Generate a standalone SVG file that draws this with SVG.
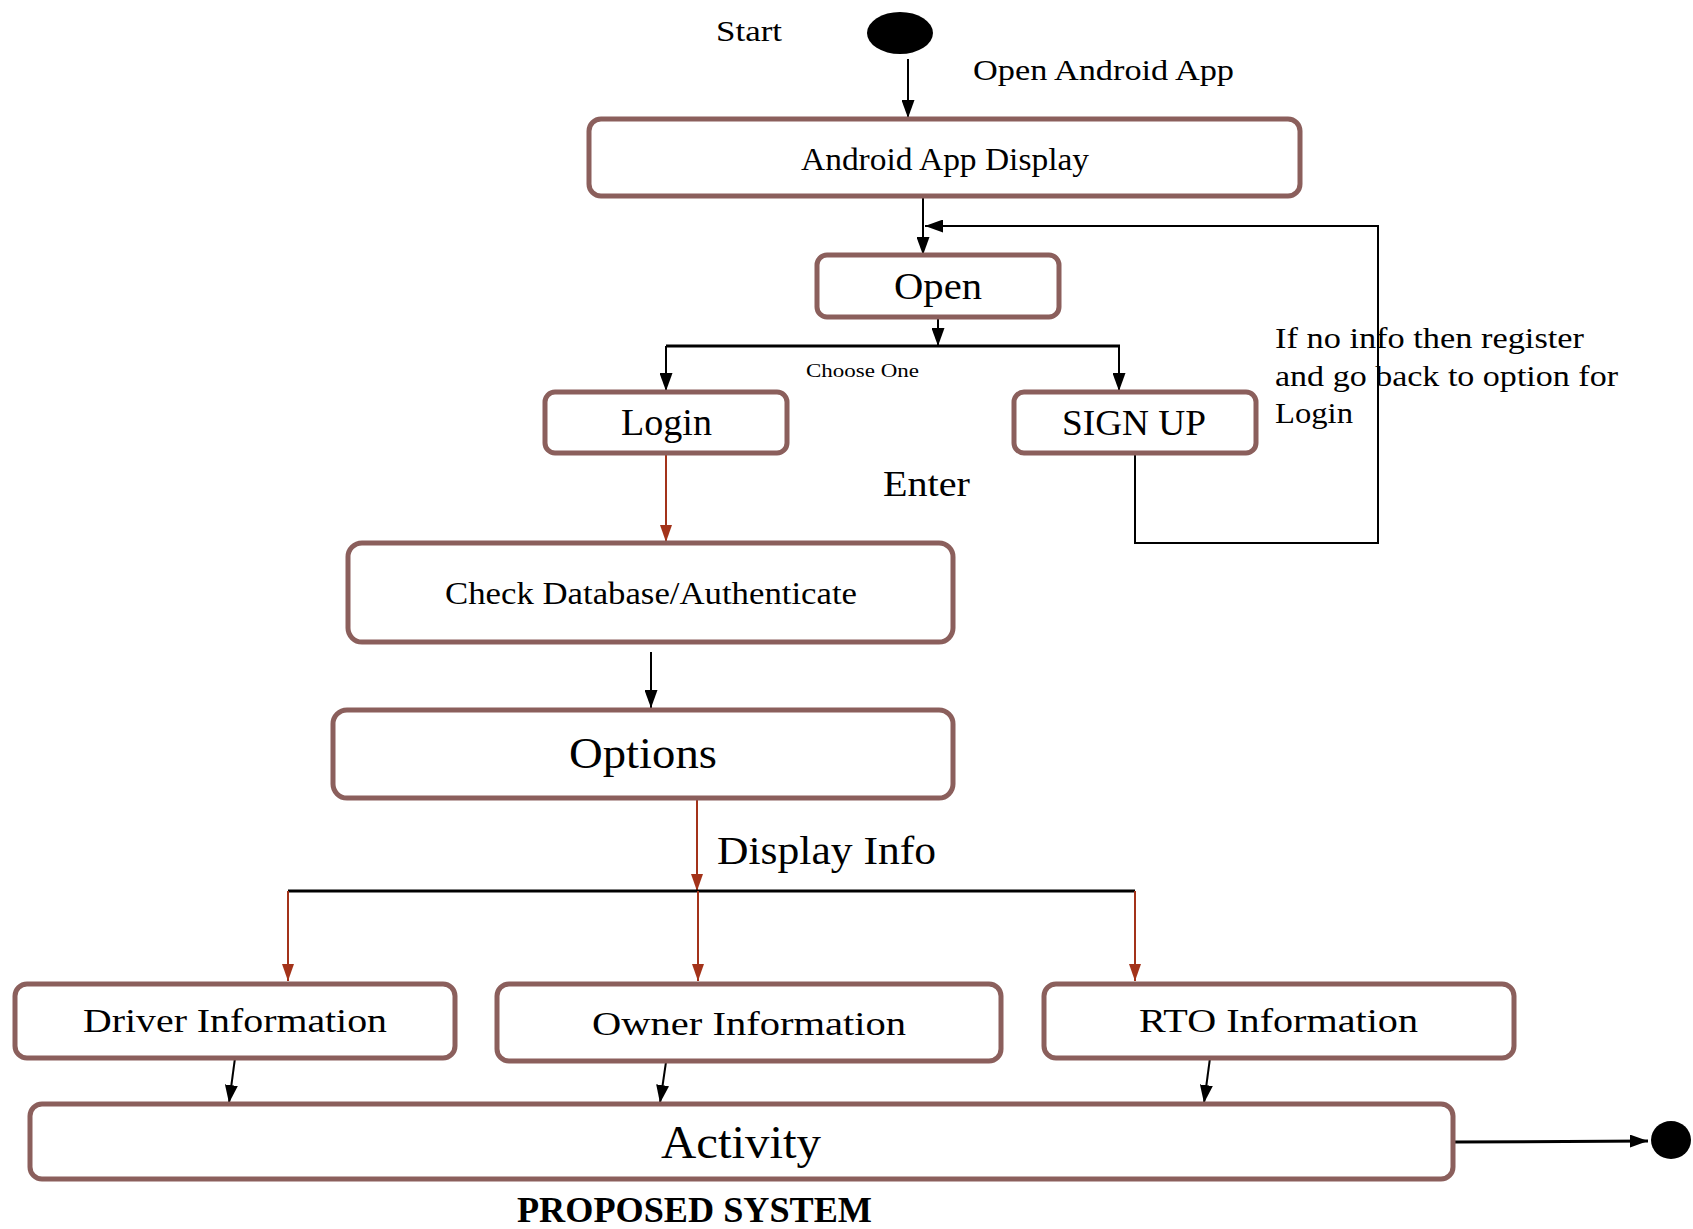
<svg xmlns="http://www.w3.org/2000/svg" width="1693" height="1229" viewBox="0 0 1693 1229">
<defs>
<style>
.box{fill:#fff;stroke:#8B5F5C;stroke-width:5}
.t{font-family:"Liberation Serif","Times New Roman",serif;fill:#000}
.ln{fill:none;stroke:#000;stroke-width:2}
.thick{fill:none;stroke:#000;stroke-width:3}
.red{fill:none;stroke:#A3331A;stroke-width:2}
</style>
<marker id="ab" markerUnits="userSpaceOnUse" viewBox="0 0 18 13" refX="18" refY="6.5" markerWidth="18" markerHeight="13" orient="auto"><path d="M0,0 L18,6.5 L0,13 z" fill="#000"/></marker>
<marker id="ar" markerUnits="userSpaceOnUse" viewBox="0 0 17 12" refX="17" refY="6" markerWidth="17" markerHeight="12" orient="auto"><path d="M0,0 L17,6 L0,12 z" fill="#A3331A"/></marker>
</defs>
<rect width="1693" height="1229" fill="#fff"/>

<g id="connectors">
<line class="ln" x1="908" y1="59" x2="908" y2="118" marker-end="url(#ab)"/>
<line class="ln" x1="923" y1="196" x2="923" y2="255" marker-end="url(#ab)"/>
<polyline class="ln" points="1135,453 1135,543 1378,543 1378,226 925,226" marker-end="url(#ab)"/>
<line class="ln" x1="938" y1="317" x2="938" y2="346" marker-end="url(#ab)"/>
<line class="thick" x1="666" y1="346" x2="1120" y2="346"/>
<line class="ln" x1="666" y1="346" x2="666" y2="391" marker-end="url(#ab)"/>
<line class="ln" x1="1119" y1="346" x2="1119" y2="391" marker-end="url(#ab)"/>
<line class="red" x1="666" y1="453" x2="666" y2="542" marker-end="url(#ar)"/>
<line class="ln" x1="651" y1="652" x2="651" y2="708" marker-end="url(#ab)"/>
<line class="red" x1="697" y1="799" x2="697" y2="891" marker-end="url(#ar)"/>
<line class="thick" x1="288" y1="891" x2="1135" y2="891"/>
<line class="red" x1="288" y1="891" x2="288" y2="981" marker-end="url(#ar)"/>
<line class="red" x1="698" y1="891" x2="698" y2="981" marker-end="url(#ar)"/>
<line class="red" x1="1135" y1="891" x2="1135" y2="981" marker-end="url(#ar)"/>
<line class="ln" x1="235" y1="1058" x2="229" y2="1103" marker-end="url(#ab)"/>
<line class="ln" x1="666" y1="1062" x2="660" y2="1103" marker-end="url(#ab)"/>
<line class="ln" x1="1210" y1="1058" x2="1204" y2="1103" marker-end="url(#ab)"/>
<line class="thick" x1="1453" y1="1142" x2="1648" y2="1141" marker-end="url(#ab)"/>
</g>

<g id="start">
<ellipse cx="900" cy="33" rx="33" ry="21" fill="#000"/>
<text class="t" x="716" y="41" font-size="30" textLength="66" lengthAdjust="spacingAndGlyphs">Start</text>
</g>
<g id="label-open-app"><text class="t" x="973" y="80" font-size="29" textLength="261" lengthAdjust="spacingAndGlyphs">Open Android App</text></g>

<g id="android-app-display">
<rect class="box" x="589" y="119" width="711" height="77" rx="12"/>
<text class="t" x="801" y="170" font-size="31" textLength="288" lengthAdjust="spacingAndGlyphs">Android App Display</text>
</g>

<g id="open">
<rect class="box" x="817" y="255" width="242" height="62" rx="10"/>
<text class="t" x="894" y="299" font-size="37" textLength="88" lengthAdjust="spacingAndGlyphs">Open</text>
</g>

<g id="label-choose"><text class="t" x="806" y="377" font-size="19" textLength="113" lengthAdjust="spacingAndGlyphs">Choose One</text></g>

<g id="login">
<rect class="box" x="545" y="392" width="242" height="61" rx="10"/>
<text class="t" x="621" y="435" font-size="37" textLength="91" lengthAdjust="spacingAndGlyphs">Login</text>
</g>

<g id="signup">
<rect class="box" x="1014" y="392" width="242" height="61" rx="10"/>
<text class="t" x="1062" y="435" font-size="35" textLength="144" lengthAdjust="spacingAndGlyphs">SIGN UP</text>
</g>

<g id="label-register">
<text class="t" x="1275" y="348" font-size="30" textLength="309" lengthAdjust="spacingAndGlyphs">If no info then register</text>
<text class="t" x="1275" y="386" font-size="30" textLength="343" lengthAdjust="spacingAndGlyphs">and go back to option for</text>
<text class="t" x="1275" y="423" font-size="30" textLength="78" lengthAdjust="spacingAndGlyphs">Login</text>
</g>

<g id="label-enter"><text class="t" x="883" y="496" font-size="36" textLength="87" lengthAdjust="spacingAndGlyphs">Enter</text></g>

<g id="check">
<rect class="box" x="348" y="543" width="605" height="99" rx="14"/>
<text class="t" x="445" y="604" font-size="31" textLength="412" lengthAdjust="spacingAndGlyphs">Check Database/Authenticate</text>
</g>

<g id="options">
<rect class="box" x="333" y="710" width="620" height="88" rx="14"/>
<text class="t" x="569" y="768" font-size="44" textLength="148" lengthAdjust="spacingAndGlyphs">Options</text>
</g>

<g id="label-display"><text class="t" x="717" y="864" font-size="41" textLength="219" lengthAdjust="spacingAndGlyphs">Display Info</text></g>

<g id="driver">
<rect class="box" x="15" y="984" width="440" height="74" rx="12"/>
<text class="t" x="83" y="1032" font-size="34" textLength="304" lengthAdjust="spacingAndGlyphs">Driver Information</text>
</g>

<g id="owner">
<rect class="box" x="497" y="984" width="504" height="77" rx="12"/>
<text class="t" x="592" y="1035" font-size="34" textLength="314" lengthAdjust="spacingAndGlyphs">Owner Information</text>
</g>

<g id="rto">
<rect class="box" x="1044" y="984" width="470" height="74" rx="12"/>
<text class="t" x="1139" y="1032" font-size="34" textLength="279" lengthAdjust="spacingAndGlyphs">RTO Information</text>
</g>

<g id="activity">
<rect class="box" x="30" y="1104" width="1423" height="75" rx="12"/>
<text class="t" x="661" y="1158" font-size="46" textLength="160" lengthAdjust="spacingAndGlyphs">Activity</text>
</g>

<g id="end"><ellipse cx="1671" cy="1140" rx="20" ry="19" fill="#000"/></g>

<g id="caption"><text class="t" x="517" y="1222" font-size="35" font-weight="bold" textLength="355" lengthAdjust="spacingAndGlyphs">PROPOSED SYSTEM</text></g>
</svg>
